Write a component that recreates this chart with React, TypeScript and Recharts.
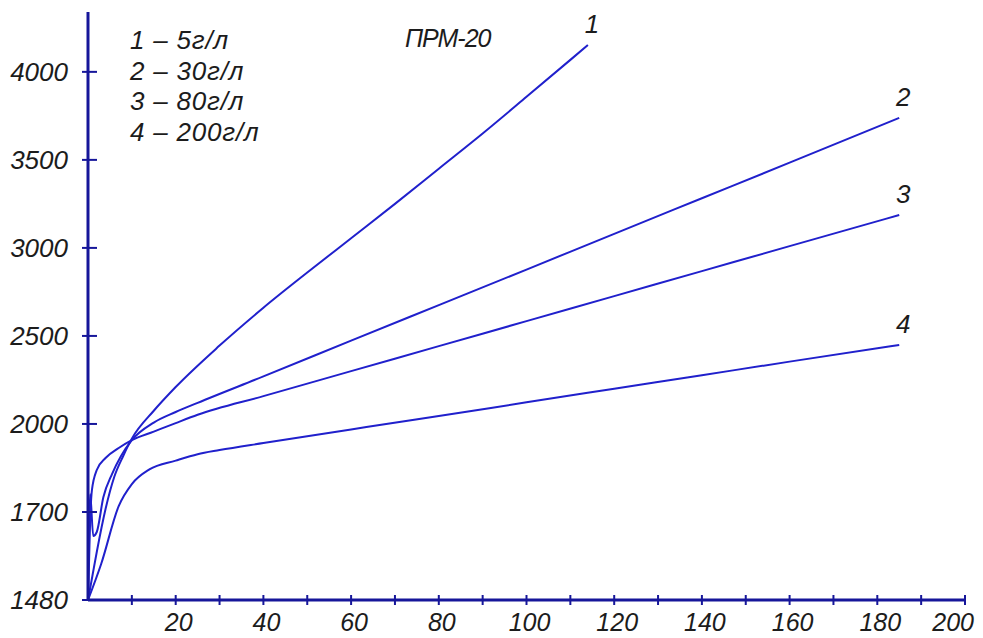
import React from 'react';
import { LineChart, Line, XAxis, YAxis } from 'recharts';

// ---- data ----
const yTickValues = [1480, 1700, 2000, 2500, 3000, 3500, 4000];
const xTickValues = [10, 20, 30, 40, 50, 60, 70, 80, 90, 100, 110, 120, 130, 140, 150, 160, 170, 180, 190, 200];

const legendLines = ['1 – 5г/л', '2 – 30г/л', '3 – 80г/л', '4 – 200г/л'];
const chartTitle = 'ПРМ-20';
const curveNames = ['1', '2', '3', '4'];

const curve1X = [0, 1, 2, 4, 6, 8, 10, 15, 20, 30, 40, 50, 60, 70, 80, 90, 100, 110, 114];
const curve1Y = [1480, 1540, 1600, 1710, 1820, 1890, 1950, 2075, 2210, 2445, 2660, 2860, 3055, 3250, 3450, 3650, 3858, 4068, 4153];

const curve2X = [0, 0.5, 1.2, 2, 3.5, 5.5, 7.5, 10, 15, 20, 25, 40, 60, 80, 100, 120, 140, 160, 185];
const curve2Y = [1480, 1760, 1640, 1650, 1750, 1830, 1890, 1945, 2008, 2068, 2120, 2270, 2473, 2675, 2877, 3080, 3282, 3484, 3739];

const curve3X = [0, 0.25, 0.5, 0.9, 2, 4, 7, 10, 15, 20, 25, 40, 60, 80, 100, 120, 140, 160, 185];
const curve3Y = [1480, 1580, 1680, 1775, 1843, 1884, 1918, 1945, 1974, 2005, 2052, 2158, 2300, 2442, 2584, 2726, 2868, 3010, 3187];

const curve4X = [0, 3, 7, 10, 14, 20, 25, 30, 40, 60, 68, 80, 100, 120, 140, 160, 185];
const curve4Y = [1480, 1570, 1720, 1795, 1845, 1875, 1897, 1911, 1935, 1981, 2000, 2045, 2123, 2200, 2277, 2354, 2449];

// ---- helpers ----
// the y axis has equally spaced ticks with unequal value steps: map values to tick-index space
const toIdx = (v: number): number => {
  const t = yTickValues;
  for (let i = 0; i < t.length - 1; i++) {
    if (v <= t[i + 1] || i === t.length - 2) {
      return i + (v - t[i]) / (t[i + 1] - t[i]);
    }
  }
  return 0;
};

const build = (xs: number[], ys: number[]) => xs.map((x, i) => ({ x, y: toIdx(ys[i]) }));

const series = [
  build(curve1X, curve1Y),
  build(curve2X, curve2Y),
  build(curve3X, curve3Y),
  build(curve4X, curve4Y),
];

const AXIS = '#16169a';
const LINE = '#2020cc';
const FONT = '"Liberation Sans", Arimo, sans-serif';
const TEXT = '#1c1c1c';
const X_MAX = xTickValues[xTickValues.length - 1];

const YTick = (props: any) => {
  const { x, y, payload } = props;
  return (
    <g>
      <line x1={x - 6} x2={x + 9} y1={y} y2={y} stroke={AXIS} strokeWidth={2} />
      <text x={x - 20} y={y + 9} textAnchor="end" fontFamily={FONT} fontStyle="italic" fontSize={26} fill={TEXT}>
        {yTickValues[payload.value]}
      </text>
    </g>
  );
};

const XTick = (props: any) => {
  const { x, y, payload } = props;
  const isLast = payload.value === X_MAX;
  return (
    <g>
      <line x1={x} x2={x} y1={y - 5} y2={y + 5} stroke={AXIS} strokeWidth={2} />
      {payload.value % 20 === 0 && (
        <text
          x={isLast ? x + 9 : x + 3}
          y={y + 31}
          textAnchor={isLast ? 'end' : 'middle'}
          fontFamily={FONT}
          fontStyle="italic"
          fontSize={25}
          fill={TEXT}
        >
          {payload.value}
        </text>
      )}
    </g>
  );
};

const makeEndLabel = (name: string, count: number) => (props: any) => {
  const { x, y, index } = props;
  if (index !== count - 1) return null;
  return (
    <text key={name} x={x + 4} y={y - 12} textAnchor="middle" fontFamily={FONT} fontStyle="italic" fontSize={26} fill={TEXT}>
      {name}
    </text>
  );
};

export default function App() {
  return (
    <div style={{ position: 'absolute', left: 0, top: 0, width: 983, height: 638, background: '#fff' }}>
      <LineChart width={983} height={638} margin={{ top: 12, right: 18, bottom: 0, left: 0 }}>
        <XAxis
          type="number"
          dataKey="x"
          domain={[0, 200]}
          ticks={xTickValues}
          interval={0}
          height={38}
          tickSize={0}
          tickMargin={0}
          tickLine={false}
          axisLine={{ stroke: AXIS, strokeWidth: 3 }}
          tick={<XTick />}
          allowDataOverflow
        />
        <YAxis
          type="number"
          dataKey="y"
          domain={[0, 6.68]}
          ticks={[0, 1, 2, 3, 4, 5, 6]}
          interval={0}
          width={88}
          tickSize={0}
          tickMargin={0}
          tickLine={false}
          axisLine={{ stroke: AXIS, strokeWidth: 3 }}
          tick={<YTick />}
          allowDataOverflow
        />
        {series.map((d, i) => (
          <Line
            key={i}
            data={d}
            dataKey="y"
            type="monotone"
            stroke={LINE}
            strokeWidth={2}
            dot={false}
            isAnimationActive={false}
            label={makeEndLabel(curveNames[i], d.length)}
          />
        ))}
      </LineChart>
      <svg width={983} height={638} style={{ position: 'absolute', left: 0, top: 0, pointerEvents: 'none' }}>
        {legendLines.map((t, i) => (
          <text key={t} x={130} y={49 + i * 30.5} fontFamily={FONT} fontStyle="italic" fontSize={26} letterSpacing={0.8} fill={TEXT}>
            {t}
          </text>
        ))}
        <text x={405} y={47} fontFamily={FONT} fontStyle="italic" fontSize={25} letterSpacing={-1} fill={TEXT}>
          {chartTitle}
        </text>
      </svg>
    </div>
  );
}
